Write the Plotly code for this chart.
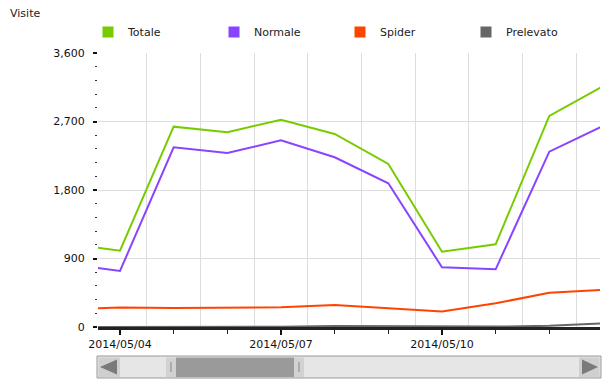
import plotly.graph_objects as go

dates = ["2014-05-03", "2014-05-04", "2014-05-05", "2014-05-06", "2014-05-07", "2014-05-08",
         "2014-05-09", "2014-05-10", "2014-05-11", "2014-05-12", "2014-05-13"]
totale = [1095, 1003, 2632, 2558, 2724, 2536, 2142, 990, 1087, 2773, 3164]
normale = [833, 736, 2361, 2286, 2453, 2230, 1888, 784, 758, 2304, 2642]
spider = [237, 255, 248, 252, 260, 289, 245, 205, 311, 451, 489]
prelevato = [0, 0, 0, 0, 2, 12, 10, 3, 5, 15, 48]

series_names = ["Totale", "Normale", "Spider", "Prelevato"]
series_values = [totale, normale, spider, prelevato]
colors = ["#77cc00", "#8844ff", "#ff4400", "#666666"]

y_ticks = [0, 900, 1800, 2700, 3600]
y_tick_text = ["0", "900", "1,800", "2,700", "3,600"]

W, H = 613, 386
L, R, T, B = 98, 13, 53, 59
PW, PH = W - L - R, H - T - B

FONT = "DejaVu Sans"

fig = go.Figure()
for name, vals, col in zip(series_names, series_values, colors):
    fig.add_trace(go.Scatter(x=dates, y=vals, mode="lines", name=name,
                             line=dict(color=col, width=2), legendgroup=name,
                             showlegend=False, cliponaxis=True))
for name, col in zip(series_names, colors):
    fig.add_trace(go.Scatter(x=[None], y=[None], mode="markers", name=name,
                             marker=dict(symbol="square", size=11, color=col),
                             legendgroup=name, showlegend=True))
# helper trace for secondary axis (half-day grid)
fig.add_trace(go.Scatter(x=[dates[0]], y=[None], xaxis="x2", yaxis="y",
                         mode="markers", showlegend=False, hoverinfo="skip"))

xrange = ["2014-05-03 14:10", "2014-05-12 22:40"]

fig.update_layout(
    width=W, height=H,
    margin=dict(l=L, r=R, t=T, b=B, autoexpand=False),
    paper_bgcolor="white", plot_bgcolor="white",
    font=dict(family=FONT, size=11, color="#222"),
    title=dict(text="Visite", x=10 / W, xref="container", xanchor="left",
               y=1 - 13 / H, yref="container", yanchor="middle",
               font=dict(family=FONT, size=11, color="#222")),
    showlegend=True,
    legend=dict(orientation="h", x=(88 - L) / PW, xanchor="left", y=1 + 21 / PH, yanchor="middle",
                entrywidth=81, entrywidthmode="pixels", itemwidth=30,
                font=dict(family=FONT, size=11, color="#222"), bgcolor="rgba(0,0,0,0)"),
    xaxis=dict(type="date", range=xrange, showgrid=False, zeroline=False,
               tick0="2014-05-04", dtick=3 * 86400000, tickformat="%Y/%m/%d",
               ticks="outside", ticklen=5, tickwidth=2, tickcolor="#111",
               showline=True, linecolor="#222", linewidth=3,
               minor=dict(tick0="2014-05-03", dtick=86400000, ticks="outside",
                          ticklen=4, tickwidth=1, tickcolor="#222", showgrid=False),
               tickfont=dict(family=FONT, size=11, color="#111")),
    xaxis2=dict(type="date", range=xrange, overlaying="x", anchor="y", side="bottom",
                showgrid=True, gridcolor="#dddddd", gridwidth=1,
                tick0="2014-05-03 12:00", dtick=86400000, showticklabels=False,
                ticks="", showline=False, zeroline=False),
    yaxis=dict(range=[0, 3600], tickvals=y_ticks, ticktext=y_tick_text,
               showgrid=True, gridcolor="#dddddd", gridwidth=1, zeroline=False,
               showline=False, ticks="outside", ticklen=4, tickwidth=2, tickcolor="#111",
               ticklabelstandoff=6,
               minor=dict(dtick=180, ticks="outside", ticklen=2, tickwidth=1,
                          tickcolor="#333", showgrid=False),
               tickfont=dict(family=FONT, size=11, color="#111")),
)

# scrollbar decoration (navigator widget)
def px(x):
    return (x - L) / PW

def py(y):
    return (H - B - y) / PH

shapes = []
def rect(x0, y0, x1, y1, fill, line=None, lw=0):
    shapes.append(dict(type="rect", xref="paper", yref="paper",
                       x0=px(x0), x1=px(x1), y0=py(y1), y1=py(y0),
                       fillcolor=fill, line=dict(color=line or fill, width=lw), layer="above"))

def tri(points, fill):
    path = "M " + " L ".join(f"{px(a)},{py(b)}" for a, b in points) + " Z"
    shapes.append(dict(type="path", xref="paper", yref="paper", path=path,
                       fillcolor=fill, line=dict(color=fill, width=0), layer="above"))

rect(97, 356, 601, 378, "#e6e6e6", "#999999", 1)
rect(98.5, 357.5, 120, 377, "#cfcfcf")
rect(579, 357.5, 599.5, 377, "#cfcfcf")
tri([(100, 367), (117, 359.5), (117, 374.5)], "#7a7a7a")
tri([(598, 367), (582, 359.5), (582, 374.5)], "#7a7a7a")
rect(176, 357.5, 294, 377, "#9a9a9a")
rect(166, 357.5, 176, 377, "#d2d2d2")
rect(294, 357.5, 304, 377, "#d2d2d2")
rect(170.5, 362, 171.5, 372, "#888888")
rect(298.5, 362, 299.5, 372, "#888888")
fig.update_layout(shapes=shapes)

fig.write_html("out.html", config={"displayModeBar": False},
               post_script="document.body.style.margin='0';document.body.style.overflow='hidden';")
